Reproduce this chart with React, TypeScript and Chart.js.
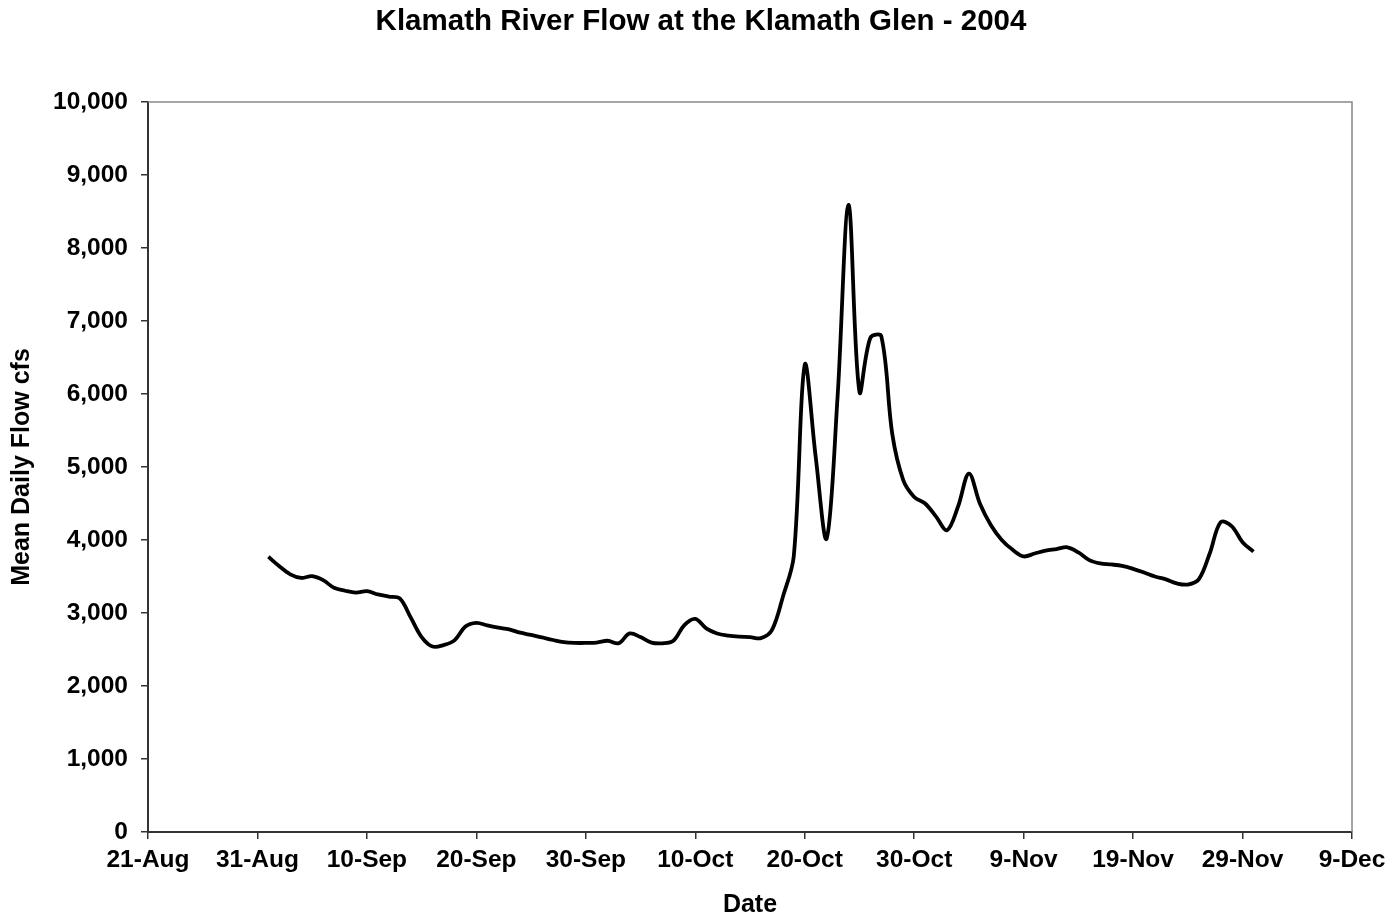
import React, { useEffect, useRef } from 'react';
import { Chart, registerables } from 'chart.js';

Chart.register(...registerables);

// ---- Text ----
const TITLE = 'Klamath River Flow at the Klamath Glen - 2004';
const X_TITLE = 'Date';
const Y_TITLE = 'Mean Daily Flow cfs';

// ---- X axis: day offsets from 21-Aug-2004, tick every 10 days ----
const X_TICK_LABELS = ['21-Aug', '31-Aug', '10-Sep', '20-Sep', '30-Sep', '10-Oct', '20-Oct', '30-Oct', '9-Nov', '19-Nov', '29-Nov', '9-Dec'];
const X_TICK_STEP = 10;
const X_MAX = 110;

// ---- Y axis ----
const Y_MIN = 0;
const Y_MAX = 10000;
const Y_STEP = 1000;

// ---- Series: daily mean flow (cfs), 1-Sep (day 11) to 30-Nov (day 101) ----
const FIRST_DAY = 11;
const FLOW = [
  3770, 3640, 3530, 3480, 3505, 3450, 3345, 3305, 3280, 3300, // 1-10 Sep
  3255, 3225, 3200, 2940, 2670, 2540, 2560, 2625, 2815, 2865, // 11-20 Sep
  2830, 2800, 2775, 2730, 2700, 2665, 2630, 2600, 2590, 2590, // 21-30 Sep
  2595, 2620, 2585, 2720, 2670, 2595, 2585, 2620, 2835, 2920, // 1-10 Oct
  2790, 2720, 2690, 2675, 2670, 2655, 2765, 3220, 3780, 6400, // 11-20 Oct
  5140, 4020, 5960, 8590, 6030, 6770, 6790, 5450, 4820, 4590, // 21-30 Oct
  4500, 4320, 4135, 4455, 4910, 4500, 4205, 4000, 3865, 3775, // 31 Oct - 9 Nov
  3815, 3855, 3875, 3900, 3830, 3725, 3680, 3665, 3645, 3605, // 10-19 Nov
  3555, 3500, 3460, 3405, 3390, 3460, 3815, 4245, 4190, 3970, // 20-29 Nov
  3840, // 30 Nov
];

const FONT = "'Liberation Sans', Arial, Helvetica, sans-serif";
const TITLE_SIZE = 29.5;
const TICK_SIZE = 24.5;
const AXIS_TITLE_SIZE = 25;

// Chart title drawn centred on the whole canvas (as in the reference)
const titlePlugin = {
  id: 'pageTitle',
  afterDraw(chart: any) {
    const { ctx, width } = chart;
    ctx.save();
    ctx.fillStyle = '#000';
    ctx.font = `bold ${TITLE_SIZE}px ${FONT}`;
    ctx.textAlign = 'center';
    ctx.textBaseline = 'middle';
    ctx.fillText(TITLE, width / 2 + 5, 22);
    ctx.restore();
  },
};

const framePlugin = {
  id: 'frame',
  beforeDatasetsDraw(chart: any) {
    const { ctx, chartArea } = chart;
    ctx.save();
    ctx.strokeStyle = '#888888';
    ctx.lineWidth = 1.5;
    ctx.beginPath();
    ctx.moveTo(chartArea.left, chartArea.top);
    ctx.lineTo(chartArea.right, chartArea.top);
    ctx.lineTo(chartArea.right, chartArea.bottom);
    ctx.stroke();
    ctx.restore();
  },
};

export default function App() {
  const canvasRef = useRef<HTMLCanvasElement | null>(null);

  useEffect(() => {
    document.body.style.margin = '0';
    const canvas = canvasRef.current;
    if (!canvas) return;

    const points = FLOW.map((v, i) => ({ x: FIRST_DAY + i, y: v }));
    const chart = new Chart(canvas, {
      type: 'line',
      data: {
        datasets: [
          {
            label: 'Flow',
            data: points,
            borderColor: '#000000',
            borderWidth: 3.8,
            pointRadius: 0,
            tension: 0.35,
            fill: false,
          },
        ],
      },
      options: {
        animation: false,
        responsive: false,
        layout: { padding: { left: 0, right: 40, top: 102, bottom: 0 } },
        plugins: {
          legend: { display: false },
          tooltip: { enabled: false },
          title: { display: false },
        },
        scales: {
          x: {
            type: 'linear',
            min: 0,
            max: X_MAX,
            afterFit: (s: any) => { s.height = 89; },
            ticks: {
              stepSize: X_TICK_STEP,
              autoSkip: false,
              maxRotation: 0,
              padding: 21 - 0.6 * TICK_SIZE,
              color: '#000',
              font: { family: FONT, size: TICK_SIZE, weight: 'bold', lineHeight: 1.2 },
              callback: (v: any) => X_TICK_LABELS[Math.round(Number(v) / X_TICK_STEP)] ?? '',
            },
            grid: { drawOnChartArea: false, drawTicks: true, tickLength: 7, color: '#333', lineWidth: 1.5 },
            border: { display: true, color: '#333', width: 2 },
            title: {
              display: true,
              text: X_TITLE,
              color: '#000',
              font: { family: FONT, size: AXIS_TITLE_SIZE, weight: 'bold', lineHeight: 1 },
              padding: { top: 0, bottom: 16 - AXIS_TITLE_SIZE / 2 },
            },
          },
          y: {
            type: 'linear',
            min: Y_MIN,
            max: Y_MAX,
            afterFit: (s: any) => { s.width = 148; },
            ticks: {
              stepSize: Y_STEP,
              padding: 13,
              color: '#000',
              font: { family: FONT, size: TICK_SIZE, weight: 'bold', lineHeight: 1.2 },
              callback: (v: any) => Number(v).toLocaleString('en-US'),
            },
            grid: { drawOnChartArea: false, drawTicks: true, tickLength: 7, color: '#333', lineWidth: 1.5 },
            border: { display: true, color: '#333', width: 2 },
            title: {
              display: true,
              text: Y_TITLE,
              color: '#000',
              font: { family: FONT, size: AXIS_TITLE_SIZE, weight: 'bold', lineHeight: 1 },
              padding: { top: 22 - AXIS_TITLE_SIZE / 2, bottom: 0 },
            },
          },
        },
      },
      plugins: [framePlugin, titlePlugin],
    } as any);
    return () => chart.destroy();
  }, []);

  return (
    <div style={{ width: 1392, height: 921, position: 'relative', background: '#fff' }}>
      <canvas ref={canvasRef} width={1392} height={921} style={{ display: 'block' }} />
    </div>
  );
}
